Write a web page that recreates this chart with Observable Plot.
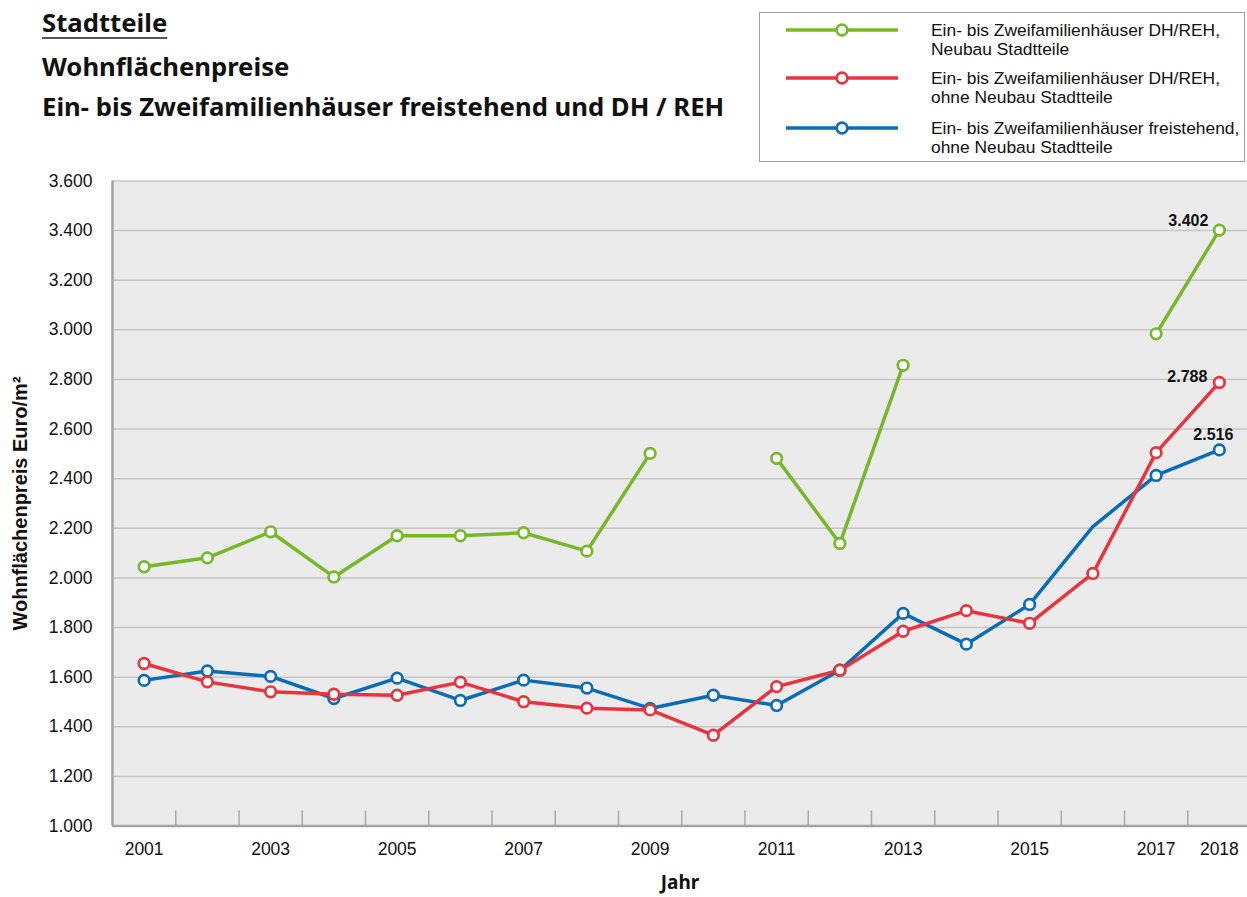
<!DOCTYPE html>
<html><head><meta charset="utf-8">
<script src="https://cdn.jsdelivr.net/npm/d3@7"></script>
<script src="https://cdn.jsdelivr.net/npm/@observablehq/plot@0.6"></script>
<style>
html,body{margin:0;padding:0;background:#fff;overflow:hidden;width:1247px;height:897px;}
#chart{position:absolute;left:0;top:0;}
.t{position:absolute;left:42px;font-family:"Noto Sans",sans-serif;font-weight:700;color:#111;white-space:nowrap;line-height:30px;font-size:25.7px;}
#t1{top:8px;text-decoration:underline;text-decoration-color:#555;text-decoration-thickness:2px;text-underline-offset:5px;}
#t2{top:52px;}
#t3{top:92px;}
#legend{position:absolute;left:759px;top:12px;width:486px;height:150px;box-sizing:border-box;border:1px solid #a0a0a0;background:#fff;}
#legend svg{position:absolute;left:0;top:0;}
.lt{position:absolute;left:171px;font-family:"Liberation Sans",Arial,sans-serif;font-size:17.4px;line-height:19px;color:#111;white-space:nowrap;}
</style></head><body>
<div id="chart"></div>
<div class="t" id="t1">Stadtteile</div>
<div class="t" id="t2">Wohnflächenpreise</div>
<div class="t" id="t3">Ein- bis Zweifamilienhäuser freistehend und DH / REH</div>
<div id="legend"></div>
<script>
// ---- data ----
const years = [2001,2002,2003,2004,2005,2006,2007,2008,2009,2010,2011,2012,2013,2014,2015,2016,2017,2018];
const neubauDH    = [2045,2081,2186,2004,2170,2170,2182,2108,2502,null,2482,2139,2857,null,null,null,2984,3402];
const bestandDH   = [1655,1581,1541,1531,1527,1580,1501,1475,1468,1366,1562,1628,1785,1868,1817,2018,2505,2788];
const bestandFrei = [1587,1625,1603,1514,1596,1506,1588,1556,1474,1527,1486,1628,1857,1733,1893,2207,2413,2516];
const freiOhneMarker = [2016];
const seriesNames = [
  "Ein- bis Zweifamilienhäuser DH/REH,\nNeubau Stadtteile",
  "Ein- bis Zweifamilienhäuser DH/REH,\nohne Neubau Stadtteile",
  "Ein- bis Zweifamilienhäuser freistehend,\nohne Neubau Stadtteile"
];
const seriesColors = ["#77b82a", "#e8343e", "#0a6cb4"];
const yTicks = [1000,1200,1400,1600,1800,2000,2200,2400,2600,2800,3000,3200,3400,3600];
const xTickLabels = [2001,2003,2005,2007,2009,2011,2013,2015,2017,2018];
const yLabel = "Wohnflächenpreis Euro/m²";
const xLabel = "Jahr";

// ---- build ----
const fmt = d3.formatLocale({decimal: ",", thousands: ".", grouping: [3], currency: ["", " €"]}).format(",d");
const rows = (vals) => years.map((y, i) => ({year: y, value: vals[i]}));
const green = rows(neubauDH), red = rows(bestandDH), blue = rows(bestandFrei);
const boundaries = years.slice(1).map(y => y - 0.5);
const last = years[years.length - 1];
const [G, R, B] = seriesColors;
const labelStyle = {x: "year", y: "value", text: d => fmt(d.value), fontWeight: "bold", fontSize: 16, fill: "#111"};
const dotStyle = {x: "year", y: "value", r: 5.3, fill: "white", strokeWidth: 2.7};

const chart = Plot.plot({
  width: 1247, height: 897,
  marginLeft: 112, marginRight: 0, marginTop: 180.5, marginBottom: 71.5,
  style: {background: "transparent", fontFamily: "'Liberation Sans', Arial, sans-serif", fontSize: "17px", color: "#111"},
  x: {type: "linear", domain: [2000.5, 2018.5], range: [112, 1250.5]},
  y: {domain: [1000, 3600]},
  marks: [
    Plot.frame({fill: "#ebebeb", stroke: null}),
    Plot.gridY(yTicks, {stroke: "#c6c6c6", strokeOpacity: 1, strokeWidth: 1.5}),
    Plot.ruleX(boundaries, {stroke: "#a8a8a8", strokeWidth: 1.5, insetTop: 630}),
    Plot.ruleY([1000], {stroke: "#a4a4a4", strokeWidth: 2.5}),
    Plot.ruleX([2000.5], {stroke: "#a4a4a4", strokeWidth: 2.5}),
    Plot.axisY(yTicks, {tickSize: 0, tickPadding: 20, tickFormat: fmt, fontSize: 17.5, label: null}),
    Plot.axisX(xTickLabels, {tickSize: 0, tickPadding: 17, tickFormat: d => String(d), fontSize: 17.5, label: null}),
    Plot.text([xLabel], {frameAnchor: "bottom", dy: 62.5, fontFamily: "'Noto Sans', sans-serif", fontWeight: "bold", fontSize: 19, fill: "#111"}),
    Plot.text([yLabel], {frameAnchor: "left", dx: -92, rotate: -90, textAnchor: "middle", fontWeight: "bold", fontSize: 20, fill: "#111"}),
    Plot.line(green, {x: "year", y: "value", stroke: G, strokeWidth: 3.5}),
    Plot.dot(green, {...dotStyle, stroke: G}),
    Plot.line(blue, {x: "year", y: "value", stroke: B, strokeWidth: 3.5}),
    Plot.dot(blue.filter(d => !freiOhneMarker.includes(d.year)), {...dotStyle, stroke: B}),
    Plot.line(red, {x: "year", y: "value", stroke: R, strokeWidth: 3.5}),
    Plot.dot(red, {...dotStyle, stroke: R}),
    Plot.text(green.filter(d => d.year === last), {...labelStyle, textAnchor: "end", dx: -11, dy: -9}),
    Plot.text(red.filter(d => d.year === last), {...labelStyle, textAnchor: "end", dx: -12, dy: -6}),
    Plot.text(blue.filter(d => d.year === last), {...labelStyle, textAnchor: "middle", dx: -6, dy: -15})
  ]
});
document.getElementById("chart").appendChild(chart);

// ---- legend ----
const legend = document.getElementById("legend");
const ns = "http://www.w3.org/2000/svg";
const lsvg = document.createElementNS(ns, "svg");
lsvg.setAttribute("width", 484); lsvg.setAttribute("height", 148);
const rowY = [17, 65, 115];
seriesNames.forEach((name, i) => {
  const ln = document.createElementNS(ns, "line");
  ln.setAttribute("x1", 26); ln.setAttribute("x2", 138);
  ln.setAttribute("y1", rowY[i]); ln.setAttribute("y2", rowY[i]);
  ln.setAttribute("stroke", seriesColors[i]); ln.setAttribute("stroke-width", 3.5);
  lsvg.appendChild(ln);
  const c = document.createElementNS(ns, "circle");
  c.setAttribute("cx", 82); c.setAttribute("cy", rowY[i]); c.setAttribute("r", 5.3);
  c.setAttribute("fill", "white"); c.setAttribute("stroke", seriesColors[i]); c.setAttribute("stroke-width", 2.7);
  lsvg.appendChild(c);
  const t = document.createElement("div");
  t.className = "lt";
  t.style.top = (rowY[i] - 9.5) + "px";
  t.innerHTML = name.split("\n").join("<br>");
  legend.appendChild(t);
});
legend.appendChild(lsvg);
</script>
</body></html>
